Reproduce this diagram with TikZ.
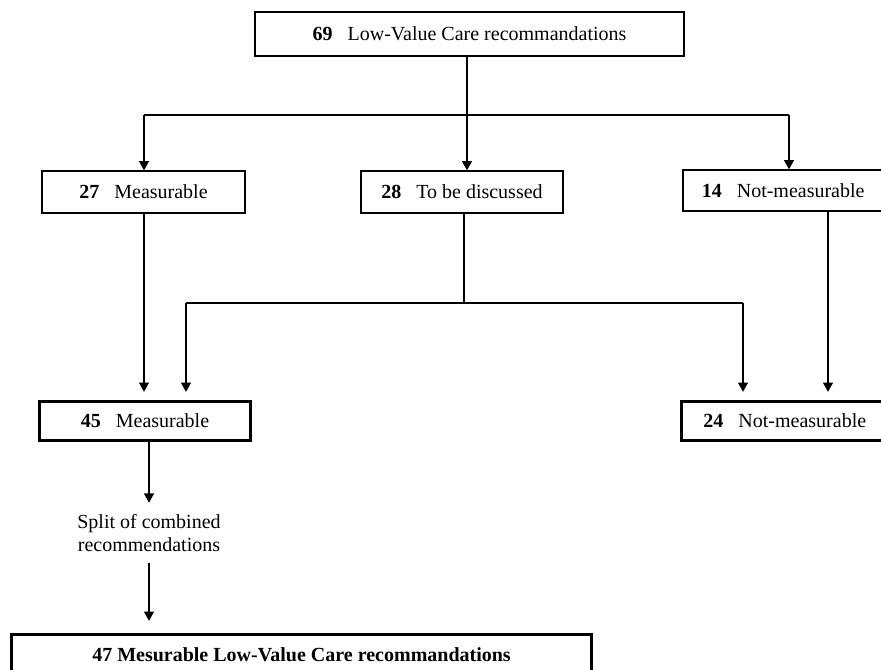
\documentclass[tikz,border=0pt]{standalone}
\usepackage{fontspec}
\setmainfont{Liberation Serif}
\usetikzlibrary{arrows.meta}
\begin{document}
\begin{tikzpicture}[x=0.75pt,y=-0.75pt,
  font=\fontsize{15}{17.25}\selectfont,
  thinbox/.style={draw=black,line width=1pt,inner sep=0pt,align=center},
  thickbox/.style={draw=black,line width=2.5pt,inner sep=0pt,align=center},
  conn/.style={draw=black,line width=1pt},
  arr/.style={conn,-{Triangle[width=7.5pt,length=7pt]}},
  thickin/.style={arr,shorten >=6pt}]
\useasboundingbox (0,0) rectangle (881,669);
\clip (0,0) rectangle (881,669);
% boxes
\node[thinbox,minimum width=321.75pt,minimum height=33pt] (top) at (469.5,34)
  {\textbf{69}\hspace{0.75em}Low-Value Care recommandations};
\node[thinbox,minimum width=152.25pt,minimum height=31.5pt] (m27) at (143.5,192)
  {\textbf{27}\hspace{0.75em}Measurable};
\node[thinbox,minimum width=151.5pt,minimum height=31.5pt] (d28) at (462,192)
  {\textbf{28}\hspace{0.75em}To be discussed};
\node[thinbox,minimum width=158.25pt,minimum height=30.75pt,text width=150pt] (n14) at (788.5,190.5)
  {\hspace*{-8pt}\textbf{14}\hspace{0.75em}Not-measurable};
\node[thickbox,minimum width=158.25pt,minimum height=29.25pt] (m45) at (145,421)
  {\textbf{45}\hspace{0.75em}Measurable};
\node[thickbox,minimum width=162pt,minimum height=29.25pt,text width=150pt] (n24) at (789.5,421)
  {\hspace*{-7pt}\textbf{24}\hspace{0.75em}Not-measurable};
\node[inner sep=0pt,align=center,minimum height=45pt] (split) at (149,533)
  {Split of combined\\recommendations};
\node[thickbox,minimum width=435pt,minimum height=30.75pt] (fin) at (301.5,655)
  {\textbf{47 Mesurable Low-Value Care recommandations}};
% junctions
\coordinate (j1) at (467,115);
\coordinate (jl) at (144,115);
\coordinate (jr) at (789,115);
\coordinate (j2) at (464,303);
\coordinate (jl2) at (186,303);
\coordinate (jr2) at (743,303);
\coordinate (x14) at (828,300);
% connectors
\draw[arr] (top.south -| j1) -- (j1 |- d28.north);
\draw[conn] (jl) -- (jr);
\draw[arr] (jl) -- (jl |- m27.north);
\draw[arr] (jr) -- (jr |- n14.north);
\draw[thickin] (m27.south -| jl) -- (jl |- m45.north);
\draw[conn] (d28.south -| j2) -- (j2);
\draw[conn] (jl2) -- (jr2);
\draw[thickin] (jl2) -- (jl2 |- m45.north);
\draw[thickin] (jr2) -- (jr2 |- n24.north);
\draw[thickin] (n14.south -| x14) -- (x14 |- n24.north);
\draw[arr] (split.north |- m45.south) -- (split.north);
\draw[thickin,shorten >=9pt] (split.south) -- (split.south |- fin.north);
\end{tikzpicture}
\end{document}
